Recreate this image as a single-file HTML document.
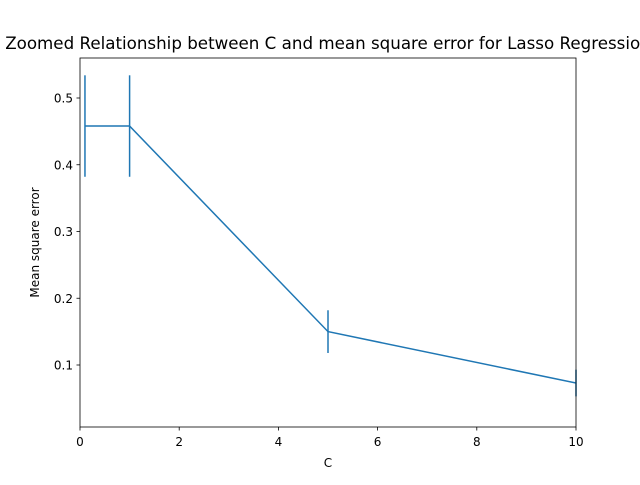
<!DOCTYPE html>
<html><head><meta charset="utf-8"><style>
body{margin:0;background:#fff;overflow:hidden}
text{font-family:"DejaVu Sans","Liberation Sans",sans-serif;fill:#000}
</style></head><body>
<svg id="chart" width="640" height="480" xmlns="http://www.w3.org/2000/svg">
<rect width="640" height="480" fill="#fff"/>
<text x="328" y="49" font-size="16.7" text-anchor="middle">Zoomed Relationship between C and mean square error for Lasso Regression</text>
<g id="plot"></g>
<rect x="80" y="58" width="496" height="369" fill="none" stroke="#000" stroke-width="0.8"/>
<text x="328" y="467" font-size="12" text-anchor="middle">C</text>
<text transform="translate(39,242.5) rotate(-90)" font-size="12" text-anchor="middle">Mean square error</text>
</svg>
<script>
const cValues=[0.1,1,5,10];
const mseValues=[0.458,0.458,0.150,0.073];
const errValues=[0.076,0.076,0.032,0.020];
const xTicks=[0,2,4,6,8,10];
const yTicks=[0.1,0.2,0.3,0.4,0.5];
const NS="http://www.w3.org/2000/svg";
const X=v=>80+v*49.6;
const Y=v=>431.75-v*667.5;
const g=document.getElementById('plot');
function mk(t,a){const e=document.createElementNS(NS,t);for(const k in a)e.setAttribute(k,a[k]);return e;}
xTicks.forEach(t=>{
 const l=mk('line',{x1:X(t),x2:X(t),y1:427,y2:430.5,stroke:'#000','stroke-width':0.8});
 
 
 g.appendChild(l);
 const s=mk('text',{x:X(t),y:446,'font-size':12,'text-anchor':'middle'});s.textContent=t;
 
 
 g.appendChild(s);
});
yTicks.forEach(t=>{
 const l=mk('line',{x1:76.5,x2:80,y1:Y(t),y2:Y(t),stroke:'#000','stroke-width':0.8});
 
 
 g.appendChild(l);
 const s=mk('text',{x:73,y:Y(t)+4.5,'font-size':12,'text-anchor':'end'});s.textContent=t.toFixed(1);
 
 
 g.appendChild(s);
});
const line=mk('polyline',{points:cValues.map((c,i)=>X(c)+','+Y(mseValues[i])).join(' '),fill:'none',stroke:'#1f77b4','stroke-width':1.5});


g.appendChild(line);
cValues.forEach((c,i)=>{
 const e=mk('line',{x1:X(c),x2:X(c),y1:Y(mseValues[i]-errValues[i]),y2:Y(mseValues[i]+errValues[i]),stroke:'#1f77b4','stroke-width':1.5});
 
 
 g.appendChild(e);
});
</script>
</body></html>
